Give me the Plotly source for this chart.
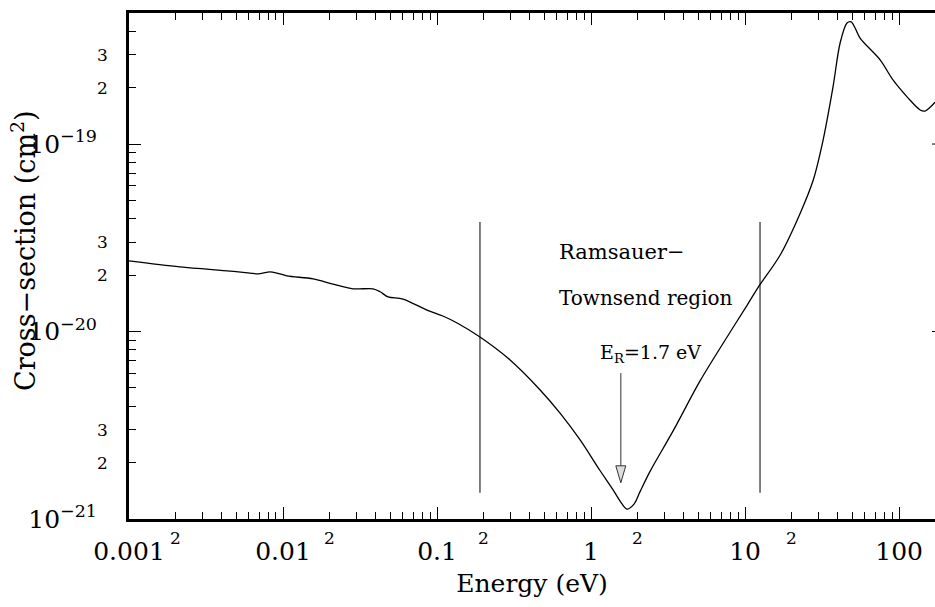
import numpy as np
import plotly.graph_objects as go

# ---- data ----
energy_eV = [0.001, 0.00214, 0.00453, 0.00611, 0.00689, 0.00824, 0.00915, 0.0106, 0.0157,
             0.0211, 0.0285, 0.0384, 0.0427, 0.0481, 0.0601, 0.0861, 0.109, 0.135, 0.190,
             0.298, 0.467, 0.629, 0.849, 1.14, 1.39, 1.54, 1.71, 1.90, 2.08, 2.42, 3.41,
             5.10, 7.64, 10.3, 12.1, 16.9, 22.8, 27.7, 32.1, 37.2, 41.4, 45.9, 48.8, 51.8,
             55.8, 75.3, 91.5, 113, 137, 147, 159, 171]
cross_section_cm2 = [2.38e-20, 2.21e-20, 2.10e-20, 2.05e-20, 2.03e-20, 2.08e-20, 2.05e-20,
                     1.98e-20, 1.91e-20, 1.79e-20, 1.69e-20, 1.69e-20, 1.63e-20, 1.53e-20,
                     1.49e-20, 1.30e-20, 1.21e-20, 1.11e-20, 9.35e-21, 7.05e-21, 4.88e-21,
                     3.67e-21, 2.64e-21, 1.82e-21, 1.43e-21, 1.25e-21, 1.13e-21, 1.20e-21,
                     1.40e-21, 1.80e-21, 2.95e-21, 5.45e-21, 9.35e-21, 1.38e-20, 1.71e-20,
                     2.56e-20, 4.28e-20, 6.43e-20, 1.05e-19, 2.01e-19, 3.46e-19, 4.42e-19,
                     4.48e-19, 4.16e-19, 3.67e-19, 2.81e-19, 2.19e-19, 1.78e-19, 1.52e-19,
                     1.50e-19, 1.57e-19, 1.67e-19]

x_major = [0.001, 0.01, 0.1, 1, 10, 100]
x_major_text = ["0.001", "0.01", "0.1", "1", "10", "100"]
x_two_labels = [0.002, 0.02, 0.2, 2, 20]
y_major = [1e-21, 1e-20, 1e-19]
y_major_text = ["10<sup>\u221221</sup>", "10<sup>\u221220</sup>", "10<sup>\u221219</sup>"]
y_small_labels = [2e-21, 3e-21, 2e-20, 3e-20, 2e-19, 3e-19]
y_small_text = ["2", "3", "2", "3", "2", "3"]

region_edges_eV = [0.19, 12.5]
region_y = [1.38e-21, 3.84e-20]
E_R = 1.56
arrow_y = [6.0e-21, 1.92e-21, 1.56e-21]  # shaft top, head base, tip

# annotation anchor points (energy, cross-section)
label1_pos = (0.60, 2.65e-20)   # "Ramsauer-" (left aligned)
label2_pos = (0.60, 1.51e-20)   # "Townsend region" (left aligned)
label3_pos = (2.42, 7.67e-21)   # "E_R=1.7 eV" (centered)

X_RANGE = [0.001, 171]
Y_RANGE = [1e-21, 5e-19]

FONT = "DejaVu Serif"

x_minor = [m * 10.0 ** e for e in range(-3, 3) for m in range(2, 10) if m * 10.0 ** e <= X_RANGE[1]]
y_minor = [m * 10.0 ** e for e in range(-21, -18) for m in range(2, 10) if m * 10.0 ** e <= Y_RANGE[1] * 1.0001]

fig = go.Figure()
fig.add_trace(go.Scatter(x=energy_eV, y=cross_section_cm2, mode="lines",
                         line=dict(color="black", width=1.3, shape="spline", smoothing=0.9),
                         showlegend=False, hoverinfo="skip"))

fig.update_layout(
    width=935, height=607,
    margin=dict(l=129, r=0, t=13, b=88),
    paper_bgcolor="white", plot_bgcolor="white",
    font=dict(family=FONT, color="black"),
    showlegend=False,
)

fig.update_xaxes(
    type="log", range=[np.log10(X_RANGE[0]), np.log10(X_RANGE[1])],
    showgrid=False, zeroline=False,
    showline=True, linecolor="black", linewidth=3, mirror="ticks",
    ticks="inside", ticklen=12, tickwidth=1, tickcolor="black",
    tickmode="array", tickvals=x_major, ticktext=x_major_text,
    tickfont=dict(size=25, family=FONT), ticklabelstandoff=8,
    minor=dict(tickmode="array", tickvals=x_minor, ticks="inside", ticklen=7,
               tickwidth=1, tickcolor="black", showgrid=False),
    title=dict(text="Energy (eV)", font=dict(size=25, family=FONT), standoff=10),
)
fig.update_yaxes(
    type="log", range=[np.log10(Y_RANGE[0]), np.log10(Y_RANGE[1])],
    showgrid=False, zeroline=False,
    showline=True, linecolor="black", linewidth=3, mirror=False,
    ticks="inside", ticklen=12, tickwidth=1, tickcolor="black",
    tickmode="array", tickvals=y_major, ticktext=y_major_text,
    tickfont=dict(size=25, family=FONT), ticklabelstandoff=24,
    minor=dict(tickmode="array", tickvals=y_minor, ticks="inside", ticklen=7,
               tickwidth=1, tickcolor="black", showgrid=False),
)

# small "2" labels on x axis
for v in x_two_labels:
    fig.add_annotation(x=np.log10(v), y=0, xref="x", yref="paper", text="2",
                       showarrow=False, font=dict(size=17, family=FONT),
                       xanchor="center", yanchor="middle", yshift=-19)
# small "2"/"3" labels on y axis
for v, t in zip(y_small_labels, y_small_text):
    fig.add_annotation(x=0, y=np.log10(v), xref="paper", yref="y", text=t,
                       showarrow=False, font=dict(size=17, family=FONT),
                       xanchor="right", yanchor="middle", xshift=-19)

# y-axis title
fig.add_annotation(x=0, y=0.5, xref="paper", yref="paper",
                   text="Cross\u2212section (cm<sup>2</sup>)", textangle=-90,
                   showarrow=False, font=dict(size=27, family=FONT),
                   xanchor="center", yanchor="middle", xshift=-106, yshift=15)

# stubs of right-hand axis ticks
for v in y_major[1:]:
    fig.add_shape(type="line", xref="paper", yref="y", x0=1 - 3 / 806, x1=1, y0=v, y1=v,
                  line=dict(color="black", width=1))

# Ramsauer-Townsend region bounds
for xe in region_edges_eV:
    fig.add_shape(type="line", xref="x", yref="y", x0=xe, x1=xe, y0=region_y[0], y1=region_y[1],
                  line=dict(color="black", width=1))

fig.add_annotation(x=np.log10(label1_pos[0]), y=np.log10(label1_pos[1]), xref="x", yref="y",
                   text="Ramsauer\u2212", showarrow=False, font=dict(size=21, family=FONT),
                   xanchor="left", yanchor="middle")
fig.add_annotation(x=np.log10(label2_pos[0]), y=np.log10(label2_pos[1]), xref="x", yref="y",
                   text="Townsend region", showarrow=False, font=dict(size=20, family=FONT),
                   xanchor="left", yanchor="middle")
fig.add_annotation(x=np.log10(label3_pos[0]), y=np.log10(label3_pos[1]), xref="x", yref="y",
                   text="E<sub>R</sub>=1.7 eV", showarrow=False, font=dict(size=19, family=FONT),
                   xanchor="center", yanchor="middle")

# arrow to E_R
fig.add_shape(type="line", xref="x", yref="y", x0=E_R, x1=E_R, y0=arrow_y[0], y1=arrow_y[1],
              line=dict(color="#555555", width=1.2))
fig.add_shape(type="path", xref="x", yref="y", xsizemode="pixel", ysizemode="pixel",
              xanchor=E_R, yanchor=arrow_y[2], path="M -5 17 L 5 17 L 0 0 Z",
              fillcolor="#dddddd", line=dict(color="#333333", width=1))

fig.write_html("out.html")
